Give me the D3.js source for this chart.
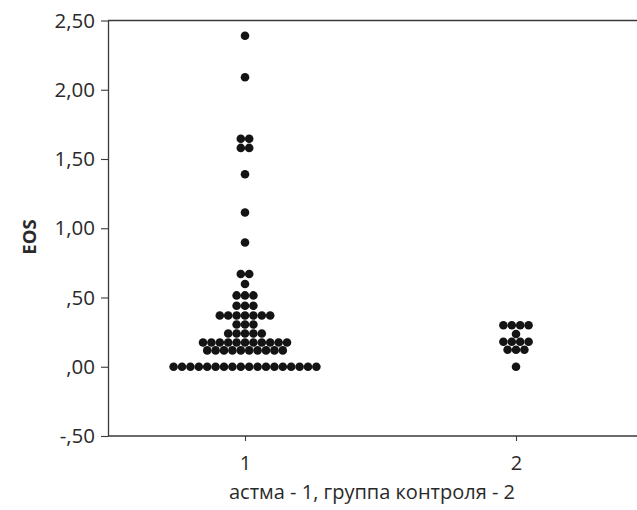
<!DOCTYPE html>
<html>
<head>
  <meta charset="utf-8">
  <script src="https://d3js.org/d3.v7.min.js"></script>
  <style>
    body { margin: 0; background: #fff; }
    text { font-family: "Open Sans", "Liberation Sans", sans-serif; fill: #2a2a2a; }
  </style>
</head>
<body>
  <script>
    var width = 637;
    var height = 510;

    // EOS values per group, each stacked row: value and number of dots
    var groups = [1, 2];
    var asthmaValues = [0.00, 0.118, 0.175, 0.240, 0.305, 0.370, 0.440, 0.515, 0.597, 0.670, 0.897, 1.114, 1.390, 1.580, 1.646, 2.090, 2.390];
    var asthmaCounts = [18, 10, 11, 5, 3, 7, 3, 3, 1, 2, 1, 1, 1, 2, 2, 1, 1];
    var controlValues = [0.00, 0.123, 0.180, 0.236, 0.300];
    var controlCounts = [1, 3, 4, 1, 4];
    var yTicks = [-0.5, 0, 0.5, 1, 1.5, 2, 2.5];

    var dotStep = 8.4;
    var dotR = 4.3;

    var svg = d3.select("body")
      .append("svg")
      .attr("width", width)
      .attr("height", height);

    var x = d3.scaleLinear().domain([1, 2]).range([245, 516]);
    var y = d3.scaleLinear().domain([-0.5, 2.5]).range([436, 20.5]);
    var left = 108;

    var fmt = function(d) {
      var s = d3.format(".2f")(d).replace(".", ",").replace("\u2212", "-");
      return s.replace(/^0,/, ",").replace(/^-0,/, "-,");
    };

    // frame lines
    var axisColor = "#3a3a3a";
    svg.append("line").attr("x1", left).attr("x2", width).attr("y1", y(2.5)).attr("y2", y(2.5))
      .attr("stroke", axisColor).attr("stroke-width", 1.3);
    svg.append("line").attr("x1", left).attr("x2", width).attr("y1", y(-0.5)).attr("y2", y(-0.5))
      .attr("stroke", axisColor).attr("stroke-width", 1.3);

    var yAxis = svg.append("g")
      .attr("transform", "translate(" + left + ",0)")
      .call(d3.axisLeft(y).tickValues(yTicks).tickFormat(fmt).tickSize(7).tickSizeOuter(0).tickPadding(6));
    yAxis.select(".domain").attr("stroke", axisColor).attr("stroke-width", 1.3);
    yAxis.selectAll(".tick line").attr("stroke", axisColor).attr("stroke-width", 1.1);
    yAxis.selectAll("text").style("font-size", "20.5px").attr("fill", "#2a2a2a");

    var xAxis = svg.append("g")
      .attr("transform", "translate(0," + y(-0.5) + ")")
      .call(d3.axisBottom(x).tickValues(groups).tickFormat(d3.format("d")).tickSize(5).tickPadding(15));
    xAxis.select(".domain").remove();
    xAxis.selectAll(".tick line").attr("stroke", axisColor).attr("stroke-width", 1.1);
    xAxis.selectAll("text").style("font-size", "20px").attr("fill", "#2a2a2a");

    // build dots: each row centred on the group position
    function rows(g, values, counts) {
      var out = [];
      values.forEach(function(v, i) {
        var n = counts[i];
        for (var k = 0; k < n; k++) {
          out.push({ g: g, v: v, off: (k - (n - 1) / 2) * dotStep });
        }
      });
      return out;
    }
    var dots = rows(1, asthmaValues, asthmaCounts).concat(rows(2, controlValues, controlCounts));

    svg.selectAll("circle.dot")
      .data(dots)
      .enter()
      .append("circle")
      .attr("class", "dot")
      .attr("cx", function(d) { return x(d.g) + d.off; })
      .attr("cy", function(d) { return y(d.v); })
      .attr("r", dotR)
      .attr("fill", "#141414");

    svg.append("text")
      .attr("transform", "translate(36,237) rotate(-90)")
      .attr("text-anchor", "middle")
      .style("font-size", "18.5px")
      .style("font-weight", "bold")
      .text("EOS");

    svg.append("text")
      .attr("x", 372)
      .attr("y", 499)
      .attr("text-anchor", "middle")
      .style("font-size", "20px")
      .text("астма - 1, группа контроля - 2");
  </script>
</body>
</html>
